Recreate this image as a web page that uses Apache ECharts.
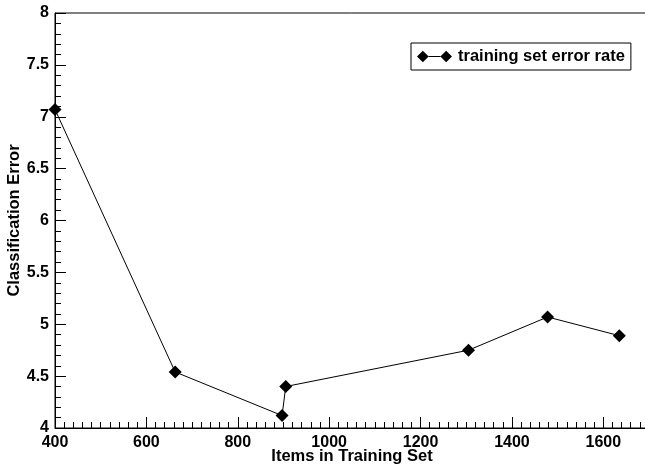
<!DOCTYPE html>
<html>
<head>
<meta charset="utf-8">
<script src="https://cdn.jsdelivr.net/npm/echarts@6/dist/echarts.min.js"></script>
<style>html,body{margin:0;padding:0;background:#fff}#c{width:645px;height:471px}</style>
</head>
<body>
<div id="c"></div>
<script>
const itemsInTrainingSet = [400, 663, 897, 905, 1305, 1478, 1635];
const errorRate = [7.07, 4.54, 4.12, 4.40, 4.75, 5.07, 4.89];
const seriesName = 'training set error rate';
const xTitle = 'Items in Training Set';
const yTitle = 'Classification Error';

const chart = echarts.init(document.getElementById('c'));
const font = 'Liberation Sans, Arial, sans-serif';
chart.setOption({
  animation: false,
  backgroundColor: '#fff',
  grid: { left: 55, top: 13, right: -4, bottom: 43, show: true, borderColor: '#000', borderWidth: 1, outerBoundsMode: 'none', containLabel: false },
  legend: {
    left: 411, top: 43, padding: [5, 6, 5, 6],
    borderColor: '#000', borderWidth: 1,
    itemWidth: 35, itemHeight: 12,
    icon: 'path://M0 6L6 0L12 6L6 12ZM12 5.5L24 5.5L24 6.5L12 6.5ZM24 6L30 0L36 6L30 12Z',
    textStyle: { fontFamily: font, fontWeight: 'bold', fontSize: 16.5, color: '#000', padding: [0, 0, 0, 1] },
    data: [seriesName]
  },
  xAxis: {
    type: 'value', min: 400, max: 1700, interval: 200,
    name: xTitle, nameLocation: 'middle', nameGap: 20, nameMoveOverlap: false,
    nameTextStyle: { fontFamily: font, fontWeight: 'bold', fontSize: 16.5, color: '#000' },
    axisLine: { lineStyle: { color: '#000', width: 1 } },
    axisTick: { inside: true, length: 11, lineStyle: { color: '#000' } },
    minorTick: { show: true, splitNumber: 10, length: 6, lineStyle: { color: '#000' } },
    axisLabel: { fontFamily: font, fontWeight: 'bold', fontSize: 16, color: '#000', margin: 7, showMaxLabel: false,
      formatter: v => String(v) },
    splitLine: { show: false }
  },
  yAxis: {
    type: 'value', min: 4, max: 8, interval: 0.5,
    name: yTitle, nameLocation: 'middle', nameGap: 32, nameMoveOverlap: false,
    nameTextStyle: { fontFamily: font, fontWeight: 'bold', fontSize: 16.5, color: '#000' },
    axisLine: { lineStyle: { color: '#000', width: 1 } },
    axisTick: { inside: true, length: 11, lineStyle: { color: '#000' } },
    minorTick: { show: true, splitNumber: 5, length: 6, lineStyle: { color: '#000' } },
    axisLabel: { fontFamily: font, fontWeight: 'bold', fontSize: 16, color: '#000', margin: 6,
      formatter: v => String(v) },
    splitLine: { show: false }
  },
  series: [{
    name: seriesName, type: 'line',
    data: itemsInTrainingSet.map((x, i) => [x, errorRate[i]]),
    symbol: 'diamond', symbolSize: 13,
    lineStyle: { color: '#000', width: 1 },
    itemStyle: { color: '#000' }
  }]
});
</script>
</body>
</html>
